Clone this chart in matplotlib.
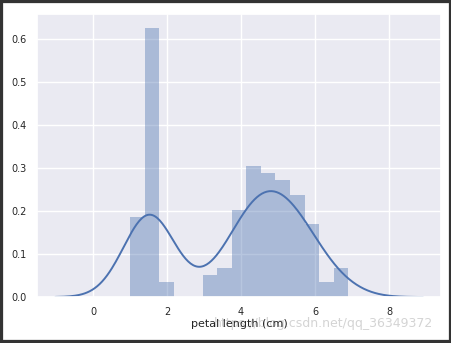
import numpy as np
import matplotlib
matplotlib.use("Agg")
import matplotlib.pyplot as plt
import seaborn as sns
from matplotlib.patches import Rectangle

# histogram: 15 bins from 1.0 to 6.9 cm, counts out of 150
bin_lo = 1.0
bin_hi = 6.9
counts = [11, 37, 2, 0, 0, 3, 4, 12, 18, 17, 16, 14, 10, 2, 4]
xlabel = "petal length (cm)"
watermark = "https://blog.csdn.net/qq_36349372"

sns.set_theme(style="darkgrid")
plt.rcParams['font.family'] = ['DejaVu Sans']

fig = plt.figure(figsize=(4.52, 3.43), dpi=100)
ax = fig.add_axes([0.082, 0.134, 0.894, 0.825])

counts = np.array(counts, dtype=float)
edges = np.linspace(bin_lo, bin_hi, len(counts) + 1)
centers = (edges[:-1] + edges[1:]) / 2
n = counts.sum()

# histogram as density, no bar edges
ax.hist(centers, bins=edges, weights=counts, density=True,
        color="#4C72B0", alpha=0.4, edgecolor="none", linewidth=0)

# gaussian kde of the binned sample (scott-like bandwidth, cut=3)
mean = (centers * counts).sum() / n
std = np.sqrt(((centers - mean) ** 2 * counts).sum() / (n - 1))
bw = 1.059 * std * n ** (-0.2)
grid = np.linspace(bin_lo - 3 * bw, bin_hi + 3 * bw, 300)
dens = (counts[None, :] * np.exp(-0.5 * ((grid[:, None] - centers[None, :]) / bw) ** 2)).sum(1)
dens /= n * bw * np.sqrt(2 * np.pi)
ax.plot(grid, dens, color="#4C72B0", lw=1.4)

ax.set_ylim(0, None)
ax.set_xlabel(xlabel, fontsize=8, labelpad=1)
ax.tick_params(labelsize=7, pad=1.5)

fig.text(0.715, 0.058, watermark, fontsize=9, color="#d4d4d4", ha="center", va="center", zorder=-1)

fig.patches.append(Rectangle((0, 0), 1, 1, transform=fig.transFigure, fill=False,
                             edgecolor="#333333", lw=4.5))

fig.savefig("out.png", dpi=100)
